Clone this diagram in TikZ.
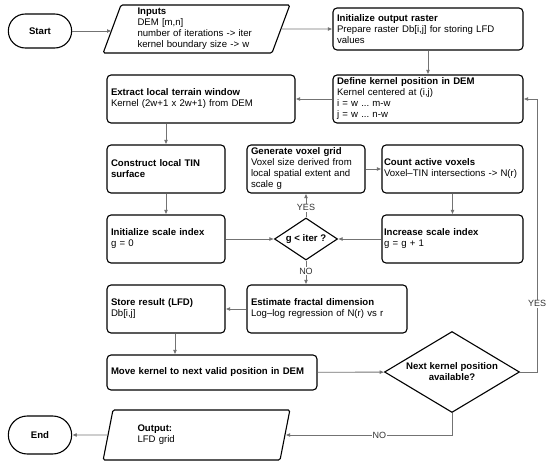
\documentclass[tikz,border=0pt]{standalone}
\usepackage{fontspec}
\setmainfont{Liberation Sans}
\usetikzlibrary{shapes.geometric,shapes.misc,arrows.meta}
\frenchspacing

\begin{document}
\begin{tikzpicture}[
  x=1pt, y=-1pt,
  font=\fontsize{9.6}{11}\selectfont,
  box/.style 2 args={draw, line width=1.1pt, rounded corners=4pt, inner xsep=4pt, inner ysep=1pt,
    align=left, text width=#1, minimum height=#2},
  term/.style={draw, line width=1.1pt, rounded rectangle, minimum width=70pt, font=\fontsize{9.6}{11}\selectfont\bfseries},
  io/.style={draw, line width=1.1pt, trapezium, trapezium left angle=72, trapezium right angle=108,
    trapezium stretches=true, rounded corners=1.5pt, minimum width=187pt, text width=118pt, align=left, inner sep=1pt},
  decision/.style={draw, line width=1.1pt, diamond, align=center, inner sep=1pt, font=\fontsize{9.6}{11}\selectfont\bfseries},
  flow/.style={draw=black!55, line width=0.9pt, -{Latex[length=4.5pt,width=4pt,fill=black]}},
  lbl/.style={fill=white, inner sep=1pt, text=black!80, font=\fontsize{9}{10}\selectfont},
]
  \useasboundingbox (0,0) rectangle (550,465);

  \node[term, minimum height=34pt] (start) at (40,31) {Start};
  \node[io, minimum height=48pt] (inputs) at (196.5,29)
    {\textbf{Inputs}\\DEM [m,n]\\number of iterations -> iter\\kernel boundary size -> w};
  \node[box={182pt}{42pt}] (initRaster) at (428,29)
    {\textbf{Initialize output raster}\\Prepare raster Db[i,j] for storing LFD\\values};
  \node[box={182pt}{48pt}] (defKernel) at (428,99)
    {\textbf{Define kernel position in DEM}\\Kernel centered at (i,j)\\i = w ... m-w\\j = w ... n-w};
  \node[box={180pt}{48pt}] (extract) at (201,99)
    {\textbf{Extract local terrain window}\\Kernel (2w+1 x 2w+1) from DEM};
  \node[box={110pt}{48pt}] (tin) at (166,169)
    {\textbf{Construct local TIN}\\\textbf{surface}};
  \node[box={110pt}{48pt}] (initScale) at (166,239)
    {\textbf{Initialize scale index}\\g = 0};
  \node[box={110pt}{48pt}] (genVox) at (306,169)
    {\textbf{Generate voxel grid}\\Voxel size derived from\\local spatial extent and\\scale g};
  \node[box={137pt}{48pt}, inner xsep=2pt] (count) at (452.5,169)
    {\textbf{Count active voxels}\\Voxel–TIN intersections -> N(r)};
  \node[box={137pt}{48pt}, inner xsep=2pt] (incScale) at (452.5,239)
    {\textbf{Increase scale index}\\g = g + 1};
  \node[decision, aspect=1.5, minimum width=63pt, minimum height=42pt] (gIter) at (306,239) {g < iter ?};
  \node[box={110pt}{48pt}] (store) at (166,309)
    {\textbf{Store result (LFD)}\\Db[i,j]};
  \node[box={152pt}{48pt}] (estimate) at (327,309)
    {\textbf{Estimate fractal dimension}\\Log–log regression of N(r) vs r};
  \node[box={202pt}{35pt}] (move) at (212,372.5)
    {\textbf{Move kernel to next valid position in DEM}};
  \node[decision, aspect=1.67, minimum width=135pt, minimum height=81pt] (next) at (452,372)
    {Next kernel position\\available?};
  \node[io, minimum height=50pt] (output) at (196.5,435) {\textbf{Output:}\\LFD grid};
  \node[term, minimum height=38pt] (end) at (40,435) {End};

  \draw[flow] (start.east) -- (start.east -| inputs.west);
  \draw[flow] (inputs) -- (initRaster);
  \draw[flow] (initRaster) -- (defKernel);
  \draw[flow] (defKernel) -- (extract);
  \draw[flow] (tin.north |- extract.south) -- (tin.north);
  \draw[flow] (tin) -- (initScale);
  \draw[flow] (initScale) -- (gIter);
  \draw[flow] (gIter) -- node[lbl, pos=0.4] {YES} (gIter |- genVox.south);
  \draw[flow] (genVox) -- (count);
  \draw[flow] (count) -- (incScale);
  \draw[flow] (incScale) -- (gIter);
  \draw[flow] (gIter) -- node[lbl, pos=0.45] {NO} (gIter |- estimate.north);
  \draw[flow] (estimate) -- (store);
  \draw[flow] ([xshift=9pt]store.south) -- ([xshift=9pt]store.south |- move.north);
  \draw[flow] (move) -- (next);
  \draw[flow] (next.east) -- ++(17,0) |- node[lbl, pos=0.125] {YES} (defKernel.east);
  \draw[flow] (next.south) |- node[lbl, pos=0.718] {NO} (output.east);
  \draw[flow] (output.west) -- (end);
\end{tikzpicture}
\end{document}
